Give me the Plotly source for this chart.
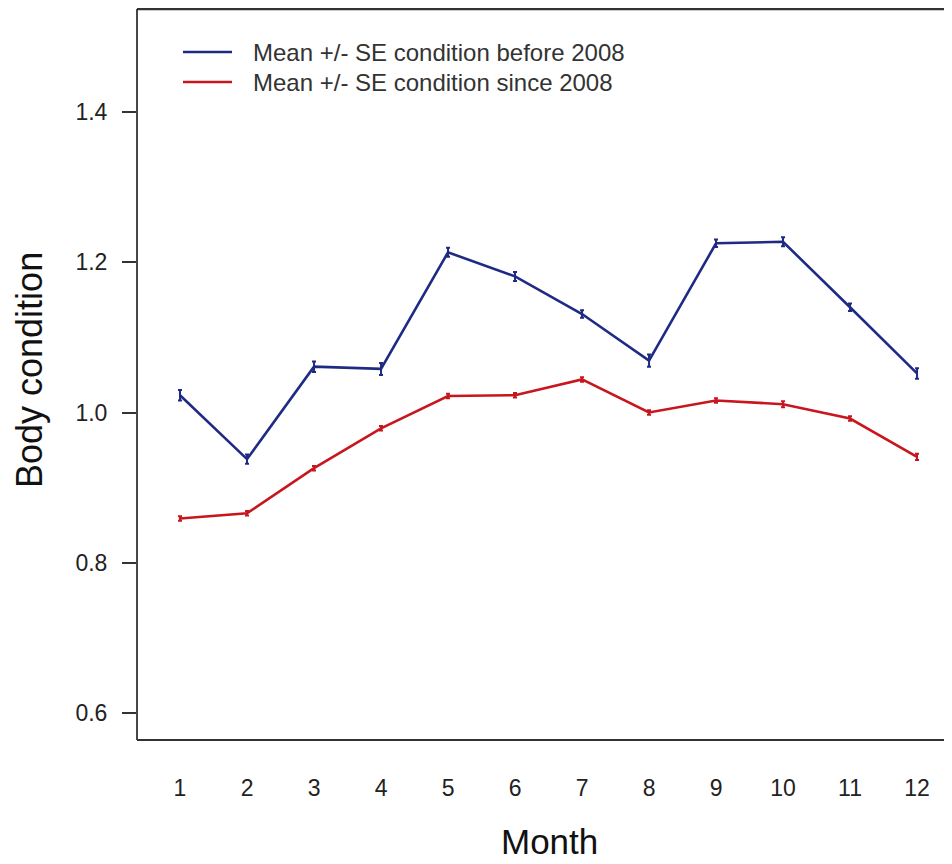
import plotly.graph_objects as go

months = [1, 2, 3, 4, 5, 6, 7, 8, 9, 10, 11, 12]
before_2008 = [1.023, 0.938, 1.061, 1.058, 1.213, 1.181, 1.131, 1.069, 1.225, 1.227, 1.140, 1.052]
before_se = [0.007, 0.006, 0.007, 0.008, 0.006, 0.006, 0.005, 0.008, 0.005, 0.006, 0.005, 0.007]
since_2008 = [0.859, 0.866, 0.926, 0.979, 1.022, 1.023, 1.044, 1.000, 1.016, 1.011, 0.992, 0.941]
since_se = [0.003, 0.003, 0.003, 0.003, 0.003, 0.003, 0.003, 0.003, 0.003, 0.004, 0.003, 0.004]
labels = ["Mean +/- SE condition before 2008", "Mean +/- SE condition since 2008"]
y_ticks = [0.6, 0.8, 1.0, 1.2, 1.4]
y_ticktext = ["0.6", "0.8", "1.0", "1.2", "1.4"]

BLUE = "#1f2a85"
RED = "#c8161f"
FONT = "Liberation Sans, Arial, sans-serif"

fig = go.Figure()
for ys, se, col, name in [(before_2008, before_se, BLUE, labels[0]),
                          (since_2008, since_se, RED, labels[1])]:
    fig.add_trace(go.Scatter(
        x=months, y=ys, mode="lines", name=name,
        line=dict(color=col, width=2.6),
        error_y=dict(type="data", array=se, visible=True, color=col,
                     thickness=2, width=2),
        showlegend=False,
    ))

# the page body adds an 8px margin, so the figure is 8px smaller and shifted
OFF = 8
W, H = 952 - OFF, 864 - OFF
ml, mr, mt, mb = 137 - OFF, 0, 9 - OFF, 864 - 740
pw = W - ml - mr
ph = H - mt - mb

fig.update_layout(
    width=W, height=H,
    margin=dict(l=ml, r=mr, t=mt, b=mb, pad=0),
    paper_bgcolor="white", plot_bgcolor="white",
    font=dict(family=FONT, color="#222222"),
    xaxis=dict(range=[0.358, 12.522], tickvals=months,
               ticktext=[str(m) for m in months],
               showgrid=False, zeroline=False, showline=False,
               ticks="", ticklabelstandoff=32,
               tickfont=dict(size=23, family=FONT, color="#222222")),
    yaxis=dict(range=[0.5645, 1.5366], tickvals=y_ticks, ticktext=y_ticktext,
               showgrid=False, zeroline=False, showline=False,
               ticks="outside", ticklen=14, tickwidth=1.5, tickcolor="#333333",
               ticklabelstandoff=10,
               tickfont=dict(size=23, family=FONT, color="#222222")),
)

# plot frame (right side falls outside the image)
for x0, y0, x1, y1, w in [(0, 0, 0, 1, 1.8), (0, 1, 1.01, 1, 2.6), (0, 0, 1.01, 0, 2.2)]:
    fig.add_shape(type="line", xref="paper", yref="paper",
                  x0=x0, y0=y0, x1=x1, y1=y1,
                  line=dict(color="#333333", width=w))

# axis titles
fig.add_annotation(text="Body condition", xref="paper", yref="paper",
                   x=0, y=(740 - 370) / ph, xshift=-(137 - 29),
                   xanchor="center", yanchor="middle", textangle=-90,
                   showarrow=False, font=dict(size=36, family=FONT, color="#111111"))
fig.add_annotation(text="Month", xref="paper", yref="paper",
                   x=(549 - 137) / pw, y=0, yshift=-(841 - 740),
                   xanchor="center", yanchor="middle",
                   showarrow=False, font=dict(size=35, family=FONT, color="#111111"))

# legend
for i, (col, name) in enumerate([(BLUE, labels[0]), (RED, labels[1])]):
    ypix = 52 + 30 * i
    yp = (740 - ypix) / ph
    fig.add_shape(type="line", xref="paper", yref="paper",
                  x0=(183 - 137) / pw, x1=(232 - 137) / pw, y0=yp, y1=yp,
                  line=dict(color=col, width=2.6))
    fig.add_annotation(text=name, xref="paper", yref="paper",
                       x=(251 - 137) / pw, y=yp, xanchor="left", yanchor="middle",
                       showarrow=False,
                       font=dict(size=24, family=FONT, color="#333333"))

fig.write_html("out.html")
